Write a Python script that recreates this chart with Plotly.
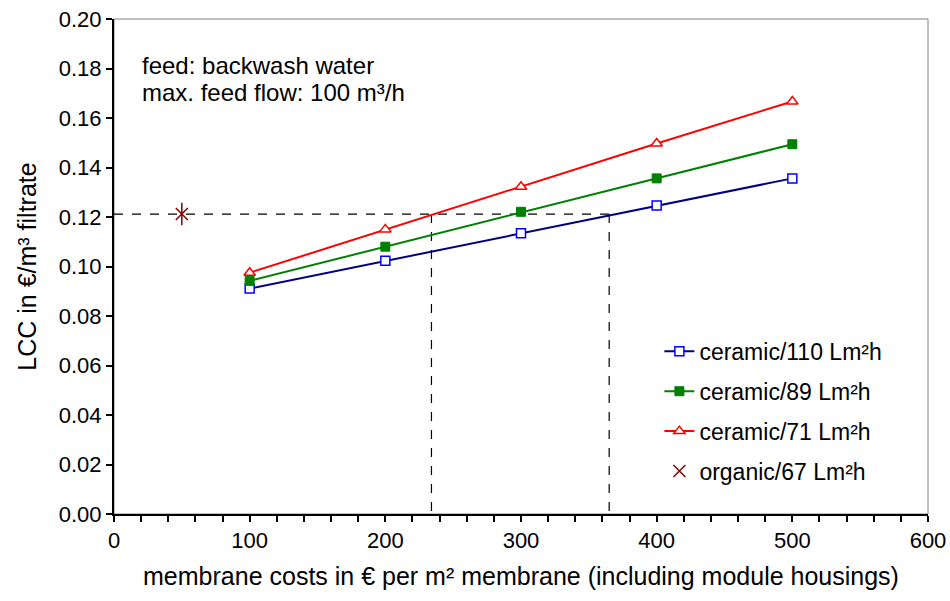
import plotly.graph_objects as go

# ---- data ----
membrane_cost = [100, 200, 300, 400, 500]
lcc_ceramic_110 = [0.0911, 0.1023, 0.1134, 0.1246, 0.1356]
lcc_ceramic_89 = [0.0942, 0.1080, 0.1221, 0.1356, 0.1494]
lcc_ceramic_71 = [0.0975, 0.1150, 0.1322, 0.1497, 0.1667]
organic_cost = [50]
organic_lcc = [0.1212]
break_even_costs = [234, 365]

series_names = ["ceramic/110 Lm²h", "ceramic/89 Lm²h", "ceramic/71 Lm²h", "organic/67 Lm²h"]

FONT = "Liberation Sans, Arial, sans-serif"

fig = go.Figure()

# dashed reference lines (organic level and break-even points)
fig.add_trace(go.Scatter(
    x=[0, break_even_costs[1]], y=[organic_lcc[0], organic_lcc[0]],
    mode="lines", line=dict(color="black", width=1.2, dash="dash"),
    showlegend=False, hoverinfo="skip"))
for bx in break_even_costs:
    fig.add_trace(go.Scatter(
        x=[bx, bx], y=[organic_lcc[0], 0],
        mode="lines", line=dict(color="black", width=1.2, dash="dash"),
        showlegend=False, hoverinfo="skip"))

fig.add_trace(go.Scatter(
    x=membrane_cost, y=lcc_ceramic_110, name=series_names[0], legendgroup="a",
    mode="lines+markers", line=dict(color="#000080", width=2),
    marker=dict(symbol="square", size=9, color="white", line=dict(color="#0000FF", width=1.5))))
fig.add_trace(go.Scatter(
    x=membrane_cost, y=lcc_ceramic_89, name=series_names[1], legendgroup="b",
    mode="lines+markers", line=dict(color="#008000", width=2),
    marker=dict(symbol="square", size=9, color="#008000", line=dict(color="#008000", width=1))))
fig.add_trace(go.Scatter(
    x=membrane_cost, y=lcc_ceramic_71, name=series_names[2], legendgroup="c",
    mode="lines+markers", line=dict(color="#FF0000", width=2),
    marker=dict(symbol="triangle-up", size=10, color="white", line=dict(color="#FF0000", width=1.5))))
fig.add_trace(go.Scatter(
    x=organic_cost, y=organic_lcc, name=series_names[3], legendgroup="d",
    mode="markers",
    marker=dict(symbol="x-thin-open", size=12, color="#800000", line=dict(color="#800000", width=1.5))))
fig.add_trace(go.Scatter(
    x=organic_cost, y=organic_lcc, legendgroup="d", showlegend=False,
    mode="markers", hoverinfo="skip",
    marker=dict(symbol="line-ns-open", size=16, color="#800000", line=dict(color="#800000", width=1.5))))

fig.add_shape(type="rect", xref="paper", yref="paper", x0=0, x1=1, y0=0, y1=1,
              line=dict(color="#808080", width=1), layer="below")

fig.add_annotation(xref="paper", yref="paper", x=0.032, y=0.906, xanchor="left", yanchor="middle",
                   text="feed: backwash water", showarrow=False,
                   font=dict(family=FONT, size=24, color="black"))
fig.add_annotation(xref="paper", yref="paper", x=0.032, y=0.851, xanchor="left", yanchor="middle",
                   text="max. feed flow: 100 m³/h", showarrow=False,
                   font=dict(family=FONT, size=24, color="black"))

fig.update_layout(
    width=950, height=601,
    margin=dict(l=114, r=22, t=19, b=87),
    paper_bgcolor="white", plot_bgcolor="white",
    font=dict(family=FONT, size=22, color="black"),
    showlegend=True,
    legend=dict(x=0.67, y=0.372, xanchor="left", yanchor="top",
                bgcolor="rgba(0,0,0,0)", tracegroupgap=7,
                font=dict(family=FONT, size=23, color="black")),
    xaxis=dict(range=[0, 600], dtick=100, tick0=0, showgrid=False, zeroline=False,
               automargin=False, ticklabeloverflow="allow",
               showline=True, linecolor="black", linewidth=2,
               ticks="outside", ticklen=6, tickwidth=2, tickcolor="black",
               minor=dict(dtick=20, ticks="outside", ticklen=6, tickwidth=2, tickcolor="black"),
               title=dict(text="membrane costs in € per m² membrane (including module housings)",
                          font=dict(family=FONT, size=25)),
               tickfont=dict(family=FONT, size=22)),
    yaxis=dict(range=[0, 0.2], dtick=0.02, tick0=0, tickformat=".2f", showgrid=False, zeroline=False,
               automargin=False, ticklabeloverflow="allow",
               showline=True, linecolor="black", linewidth=2,
               ticks="outside", ticklen=6, tickwidth=2, tickcolor="black",
               title=dict(text="LCC in €/m³ filtrate", font=dict(family=FONT, size=25)),
               tickfont=dict(family=FONT, size=22)),
)

fig.write_html(
    "out.html",
    config={"displayModeBar": False},
    post_script="document.body.style.margin='0';document.body.style.overflow='hidden';",
)
